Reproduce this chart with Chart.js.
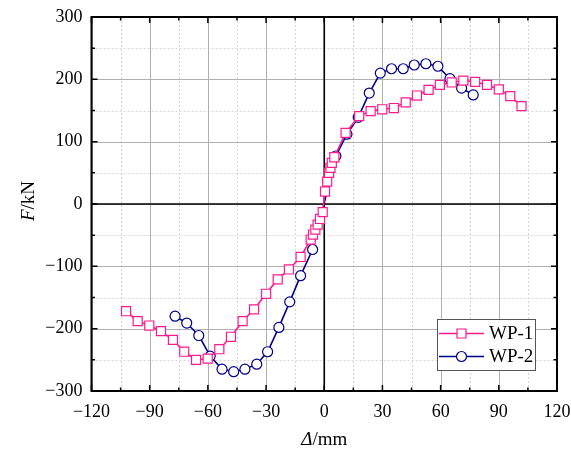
<!DOCTYPE html>
<html>
<head>
<meta charset="utf-8">
<script src="https://cdn.jsdelivr.net/npm/chart.js@4.4.1/dist/chart.umd.min.js"></script>
<style>
  html, body { margin: 0; padding: 0; background: #fff; }
  #wrap { width: 571px; height: 454px; }
</style>
</head>
<body>
<div id="wrap"><canvas id="myChart" width="571" height="454"></canvas></div>
<script>
// WP-1 (squares) displacement / force
const wp1X = [-102.2, -96.2, -90.2, -84.2, -78, -72.2, -66.1, -60.1, -54.1, -48.1, -42.1, -36.2, -30, -24, -18.2, -12.2,
  -7, -5.8, -4.6, -3.4, -2.2, -0.8, 0.4, 1.5, 2.5, 3.2, 3.9, 5.2, 11, 18, 23.9, 29.9, 35.9, 42, 47.8, 53.8, 59.6, 65.7,
  71.7, 77.8, 83.9, 90, 95.9, 101.7];
const wp1Y = [-172, -188, -195, -204, -218, -237, -250, -248, -233, -213, -188, -169, -144, -121, -105, -85,
  -57, -49, -41, -33, -24, -13, 20, 36, 50, 58, 66, 75, 114, 141, 149, 152, 154, 163, 174, 183, 191, 195,
  198, 196, 191, 184, 173, 157];

// WP-2 (circles)
const wp2X = [-76.9, -70.9, -64.7, -58.8, -52.7, -46.7, -40.9, -34.8, -29.2, -23.4, -17.8, -12.2, -6, 6, 11.7, 17.5,
  23.2, 28.9, 34.7, 40.7, 46.4, 52.4, 58.6, 64.8, 70.8, 76.8];
const wp2Y = [-180, -191, -211, -244, -265, -269, -265, -257, -237, -198, -157, -115, -73, 77, 112, 139,
  178, 210, 217, 217, 223, 225, 221, 201, 186, 175];

const xTicks = [-120, -90, -60, -30, 0, 30, 60, 90, 120];
const yTicks = [-300, -200, -100, 0, 100, 200, 300];
const seriesNames = ["WP-1", "WP-2"];

const pink = "#ff1a8c";
const navy = "#00008b";
const FONT = "'Liberation Serif', 'Times New Roman', serif";

function pts(xs, ys) {
  let out = [];
  for (let i = 0; i < xs.length; i++) out.push({x: xs[i], y: ys[i]});
  return out;
}
function minus(v) { return String(v).replace("-", "\u2212"); }

// grid, zero lines, inward ticks, frame, axis titles, legend
const decor = {
  id: "decor",
  beforeDatasetsDraw(chart) {
    const ctx = chart.ctx, a = chart.chartArea;
    const xs = chart.scales.x, ys = chart.scales.y;
    ctx.save();
    // minor grid
    ctx.setLineDash([2, 2]);
    ctx.strokeStyle = "#d6d6d6";
    ctx.lineWidth = 1;
    for (let v = -105; v < 120; v += 30) {
      let px = Math.round(xs.getPixelForValue(v)) + 0.5;
      ctx.beginPath(); ctx.moveTo(px, a.top); ctx.lineTo(px, a.bottom); ctx.stroke();
    }
    for (let v = -250; v < 300; v += 100) {
      let py = Math.round(ys.getPixelForValue(v)) + 0.5;
      ctx.beginPath(); ctx.moveTo(a.left, py); ctx.lineTo(a.right, py); ctx.stroke();
    }
    // major grid
    ctx.setLineDash([]);
    ctx.strokeStyle = "#b0b0b0";
    xTicks.forEach(v => {
      let px = Math.round(xs.getPixelForValue(v)) + 0.5;
      ctx.beginPath(); ctx.moveTo(px, a.top); ctx.lineTo(px, a.bottom); ctx.stroke();
    });
    yTicks.forEach(v => {
      let py = Math.round(ys.getPixelForValue(v)) + 0.5;
      ctx.beginPath(); ctx.moveTo(a.left, py); ctx.lineTo(a.right, py); ctx.stroke();
    });
    // zero lines
    ctx.strokeStyle = "#000";
    ctx.lineWidth = 1.6;
    let x0 = xs.getPixelForValue(0), y0 = ys.getPixelForValue(0);
    ctx.beginPath(); ctx.moveTo(x0, a.top); ctx.lineTo(x0, a.bottom); ctx.stroke();
    ctx.beginPath(); ctx.moveTo(a.left, y0); ctx.lineTo(a.right, y0); ctx.stroke();
    ctx.restore();
  },
  afterDatasetsDraw(chart) {
    const ctx = chart.ctx, a = chart.chartArea;
    const xs = chart.scales.x, ys = chart.scales.y;
    ctx.save();
    // ticks
    ctx.strokeStyle = "#000";
    ctx.lineWidth = 1.5;
    for (let v = -120; v <= 120; v += 15) {
      let px = xs.getPixelForValue(v);
      let len = (v % 30 === 0) ? 6 : 3.5;
      ctx.beginPath();
      ctx.moveTo(px, a.bottom); ctx.lineTo(px, a.bottom - len);
      ctx.moveTo(px, a.top); ctx.lineTo(px, a.top + len);
      ctx.stroke();
    }
    for (let v = -300; v <= 300; v += 50) {
      let py = ys.getPixelForValue(v);
      let len = (v % 100 === 0) ? 6 : 3.5;
      ctx.beginPath();
      ctx.moveTo(a.left, py); ctx.lineTo(a.left + len, py);
      ctx.moveTo(a.right, py); ctx.lineTo(a.right - len, py);
      ctx.stroke();
    }
    // frame
    ctx.lineWidth = 2;
    ctx.strokeRect(a.left, a.top, a.right - a.left, a.bottom - a.top);

    // axis titles
    ctx.fillStyle = "#000";
    ctx.textBaseline = "middle";
    let xt1 = "\u0394", xt2 = "/mm";
    ctx.font = "italic 19px " + FONT;
    let w1 = ctx.measureText(xt1).width;
    ctx.font = "19px " + FONT;
    let w2 = ctx.measureText(xt2).width;
    let sx = xs.getPixelForValue(0) - (w1 + w2) / 2;
    ctx.textAlign = "left";
    ctx.font = "italic 19px " + FONT;
    ctx.fillText(xt1, sx, 440);
    ctx.font = "19px " + FONT;
    ctx.fillText(xt2, sx + w1, 440);

    ctx.save();
    ctx.translate(29, 201);
    ctx.rotate(-Math.PI / 2);
    let yt1 = "F", yt2 = "/kN";
    ctx.font = "italic 19px " + FONT;
    let v1 = ctx.measureText(yt1).width;
    ctx.font = "19px " + FONT;
    let v2 = ctx.measureText(yt2).width;
    ctx.font = "italic 19px " + FONT;
    ctx.fillText(yt1, -(v1 + v2) / 2, 0);
    ctx.font = "19px " + FONT;
    ctx.fillText(yt2, -(v1 + v2) / 2 + v1, 0);
    ctx.restore();

    // legend
    ctx.fillStyle = "#fff";
    ctx.fillRect(437, 319, 99, 51);
    ctx.strokeStyle = "#555";
    ctx.lineWidth = 1;
    ctx.strokeRect(437.5, 319.5, 98, 51);
    const cols = [pink, navy];
    const rows = [333.5, 356.5];
    for (let i = 0; i < 2; i++) {
      ctx.strokeStyle = cols[i];
      ctx.lineWidth = 1.6;
      ctx.beginPath(); ctx.moveTo(439, rows[i]); ctx.lineTo(484, rows[i]); ctx.stroke();
      ctx.fillStyle = "#fff";
      ctx.lineWidth = 1.2;
      ctx.beginPath();
      if (i === 0) ctx.rect(457, rows[i] - 4.5, 9, 9);
      else ctx.arc(461.5, rows[i], 5, 0, Math.PI * 2);
      ctx.fill(); ctx.stroke();
      ctx.fillStyle = "#000";
      ctx.font = "19px " + FONT;
      ctx.textAlign = "left";
      ctx.fillText(seriesNames[i], 489, rows[i] + 1);
    }
    ctx.restore();
  }
};

const ctx = document.getElementById("myChart").getContext("2d");
const myChart = new Chart(ctx, {
  type: "scatter",
  data: {
    datasets: [{
      label: seriesNames[0],
      data: pts(wp1X, wp1Y),
      showLine: true,
      borderColor: pink,
      borderWidth: 1.6,
      pointStyle: "rect",
      pointRadius: 6.4,
      pointBorderWidth: 1.2,
      pointBackgroundColor: "#fff",
      pointBorderColor: pink
    }, {
      label: seriesNames[1],
      data: pts(wp2X, wp2Y),
      showLine: true,
      borderColor: navy,
      borderWidth: 1.6,
      pointStyle: "circle",
      pointRadius: 5,
      pointBorderWidth: 1.2,
      pointBackgroundColor: "#fff",
      pointBorderColor: navy
    }]
  },
  options: {
    responsive: false,
    animation: false,
    events: [],
    layout: { padding: { left: 0, right: 14, top: 17, bottom: 0 } },
    plugins: { legend: { display: false }, tooltip: { enabled: false } },
    scales: {
      x: {
        type: "linear", min: -120, max: 120,
        afterFit: s => { s.height = 63; s.paddingLeft = 0; s.paddingRight = 0; },
        afterBuildTicks: s => { s.ticks = xTicks.map(v => ({value: v})); },
        grid: { display: false, drawTicks: false },
        border: { display: false },
        ticks: { color: "#000", padding: 10, maxRotation: 0, autoSkip: false,
          font: { family: FONT, size: 18 }, callback: v => minus(v) }
      },
      y: {
        type: "linear", min: -300, max: 300,
        afterFit: s => { s.width = 91.5; s.paddingTop = 0; s.paddingBottom = 0; },
        afterBuildTicks: s => { s.ticks = yTicks.map(v => ({value: v})); },
        grid: { display: false, drawTicks: false },
        border: { display: false },
        ticks: { color: "#000", padding: 9, autoSkip: false,
          font: { family: FONT, size: 18 }, callback: v => minus(v) }
      }
    }
  },
  plugins: [decor]
});
</script>
</body>
</html>
